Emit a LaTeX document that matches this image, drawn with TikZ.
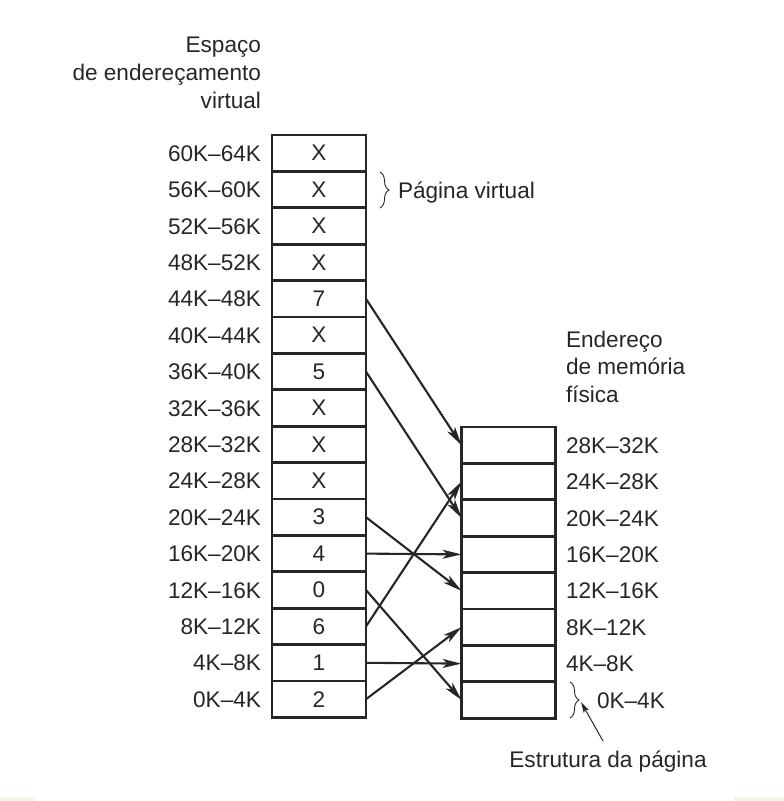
\documentclass[tikz,border=0pt]{standalone}
\usepackage{fontspec}
\setmainfont{Liberation Sans}
\usetikzlibrary{arrows.meta,decorations.pathreplacing}
\definecolor{ink}{HTML}{262626}
\definecolor{tint}{HTML}{F3F5E6}
\begin{document}
\begin{tikzpicture}[x=1pt,y=-1pt,
  every node/.style={text=ink, font=\fontsize{22.6}{28}\selectfont, inner sep=0pt, outer sep=0pt},
  cell/.style={draw=ink, line width=2.8pt, minimum width=94pt, minimum height=36.4pt},
  map/.style={draw=ink, line width=2.1pt, -{Stealth[length=19pt,width=9pt,inset=5pt]}},
  brc/.style={draw=ink, line width=0.9pt, decorate, decoration={brace, amplitude=9pt}},
  lab/.style={anchor=base east},
  rlab/.style={anchor=base west}]
\useasboundingbox (0,0) rectangle (784,801);
\fill[tint] (0,797) rectangle (36,801);
\fill[tint] (734,797) rectangle (784,801);
% title
\node[lab] (t1) at (261,52) {Espaço};
\node[lab] (t2) at (261,80) {de endereçamento};
\node[lab] (t3) at (261,108) {virtual};
% virtual pages
\foreach \v [count=\i from 0] in {X,X,X,X,7,X,5,X,X,X,3,4,0,6,1,2}
  \node[cell] (L\i) at (319,153.2+36.4*\i) {\v};
\foreach \t [count=\i from 0] in {60K--64K,56K--60K,52K--56K,48K--52K,44K--48K,40K--44K,36K--40K,32K--36K,28K--32K,24K--28K,20K--24K,16K--20K,12K--16K,8K--12K,4K--8K,0K--4K}
  \node[lab] (ll\i) at (261,161.2+36.4*\i) {\t};
% physical frames
\foreach \j in {0,...,7}
  \node[cell] (R\j) at (508.5,445.2+36.4*\j) {};
\foreach \t [count=\j from 0] in {28K--32K,24K--28K,20K--24K,16K--20K,12K--16K,8K--12K,4K--8K}
  \node[rlab] (rl\j) at (566,453.2+36.4*\j) {\t};
\node[rlab] (rl7) at (597,708) {0K--4K};
% physical title
\node[rlab] (p1) at (566,347) {Endereço};
\node[rlab] (p2) at (566,374.5) {de memória};
\node[rlab] (p3) at (566,402) {física};
% mappings
\draw[map] (L4.east) -- (R0.west);
\draw[map] (L6.east) -- (R2.west);
\draw[map] (L10.east) -- (R4.west);
\draw[map] (L11.east) -- (R3.west);
\draw[map] (L12.east) -- (R7.west);
\draw[map] (L13.east) -- (R1.west);
\draw[map] (L14.east) -- (R6.west);
\draw[map] (L15.east) -- (R5.west);
% virtual page brace
\coordinate (b1) at (380,172);
\coordinate (b2) at (380,208);
\draw[brc] (b1) -- (b2);
\node[rlab] (pv) at (398,198) {Página virtual};
% page frame brace
\coordinate (c1) at (570,682);
\coordinate (c2) at (570,718);
\draw[brc] (c1) -- (c2);
\node[anchor=base] (ep) at (608,767) {Estrutura da página};
\coordinate (a1) at (603,741);
\coordinate (a2) at (581,702);
\draw[draw=ink, line width=1pt, -{Stealth[length=11pt,width=6pt,inset=2.5pt]}] (a1) -- (a2);
\end{tikzpicture}
\end{document}
